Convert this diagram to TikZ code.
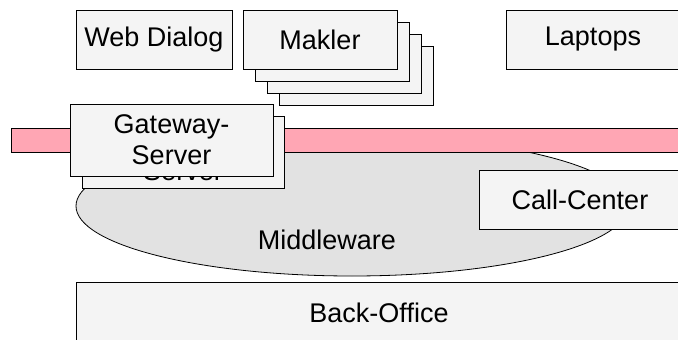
\documentclass[tikz,border=0pt]{standalone}
\usepackage{fontspec}
\setmainfont{Liberation Sans}
\usetikzlibrary{shapes.geometric}
\definecolor{boxfill}{HTML}{F4F4F4}
\definecolor{mwfill}{HTML}{E2E2E2}
\definecolor{barpink}{HTML}{FFA6B4}
\tikzset{
  txt/.style={font=\fontsize{27}{31}\selectfont, align=center},
  box/.style={draw=black, line width=0.8pt, fill=boxfill, rectangle, inner sep=0pt, outer sep=0pt, txt},
}
\begin{document}
\begin{tikzpicture}[x=1pt,y=-1pt]
\useasboundingbox (0,0) rectangle (678,340);
\clip (0,0) rectangle (678,340);
% top row
\node[box, minimum width=156pt, minimum height=59pt] (web) at (154,39.5) {Web Dialog};
\node[box, minimum width=154pt, minimum height=59pt] (mk4) at (356,75.5) {};
\node[box, minimum width=154pt, minimum height=59pt] (mk3) at (344,63.5) {};
\node[box, minimum width=154pt, minimum height=59pt] (mk2) at (332,51.5) {};
\node[box, minimum width=154pt, minimum height=59pt] (mk1) at (320,39.5) {Makler};
\node[box, minimum width=174pt, minimum height=59pt] (lap) at (593,39.5) {Laptops};
% middleware
\node[draw=black, line width=0.8pt, fill=mwfill, ellipse, inner sep=0pt, outer sep=0pt, minimum width=552pt, minimum height=140pt] (mw) at (352,206) {};
\node[txt] (mwtext) at (327,240) {Middleware};
% bar
\node[draw=black, line width=0.8pt, fill=barpink, rectangle, inner sep=0pt, minimum width=690pt, minimum height=24pt] (bar) at (356,140) {};
% gateway (back copy, text slightly lower so its second line peeks out)
\node[box, minimum width=202pt, minimum height=72pt] (gw2) at (183,152) {};
\node[txt] (gw2text) at (183,156) {Gateway-\\Server};
\node[box, minimum width=203pt, minimum height=72pt] (gw1) at (171.5,140) {Gateway-\\Server};
% call center
\node[box, minimum width=202pt, minimum height=59pt] (cc) at (580,199.5) {Call-Center};
% back office
\node[box, minimum width=606pt, minimum height=60pt] (bo) at (379,312.5) {Back-Office};
\end{tikzpicture}
\end{document}
